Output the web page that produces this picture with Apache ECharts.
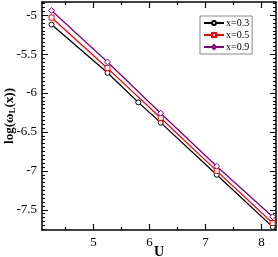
<!DOCTYPE html>
<html><head><meta charset="utf-8">
<script src="https://cdn.jsdelivr.net/npm/echarts@6/dist/echarts.min.js"></script>
<style>html,body{margin:0;padding:0;background:#fff}#c{width:278px;height:257px}</style>
</head><body><div id="c"></div>
<script>
// Data
const uBlack = [4.25, 5.25, 5.8, 6.2, 7.2, 8.2];
const uOther = [4.25, 5.25, 6.2, 7.2, 8.2];
const logX03 = [-5.12, -5.74, -6.12, -6.38, -7.05, -7.72];
const logX05 = [-5.03, -5.68, -6.32, -7.00, -7.67];
const logX09 = [-4.94, -5.60, -6.26, -6.94, -7.59];
const xTickLabels = [5, 6, 7, 8];
const yTickLabels = [-5, -5.5, -6, -6.5, -7, -7.5];
const seriesNames = ['x=0.3', 'x=0.5', 'x=0.9'];

const xMin = 4.08, xMax = 8.26, yMin = -7.76, yMax = -4.83;
const xMinor = [4.5, 5.5, 6.5, 7.5];
const yMinor = [];
for (let k = -155; k <= -97; k++) { const v = k * 0.05; if (v >= yMin && v <= yMax) yMinor.push(+v.toFixed(2)); }

const serif = 'Liberation Serif';
const pair = (xs, ys) => xs.map((x, i) => [x, ys[i]]);

function xAx(pos, ticks, len, labels, line) {
  return { type: 'value', position: pos, min: xMin, max: xMax,
    axisLine: { show: line, onZero: false, lineStyle: { color: '#000', width: 1.5 } },
    axisTick: { show: true, inside: true, length: len, customValues: ticks, lineStyle: { color: '#000', width: 1.2 } },
    axisLabel: labels ? { show: true, customValues: xTickLabels, color: '#000', fontFamily: serif, fontSize: 13, margin: 6 } : { show: false },
    splitLine: { show: false } };
}
function yAx(pos, ticks, len, labels, line) {
  return { type: 'value', position: pos, min: yMin, max: yMax,
    axisLine: { show: line, onZero: false, lineStyle: { color: '#000', width: 1.5 } },
    axisTick: { show: true, inside: true, length: len, customValues: ticks, lineStyle: { color: '#000', width: 1 } },
    axisLabel: labels ? { show: true, customValues: yTickLabels, color: '#000', fontFamily: serif, fontSize: 13, margin: 5 } : { show: false },
    splitLine: { show: false } };
}

const xAxes = [
  xAx('bottom', xTickLabels, 6, true, true),
  xAx('bottom', xMinor, 3, false, false),
  xAx('top', xTickLabels, 6, false, true),
  xAx('top', xMinor, 3, false, false)
];
xAxes[0].name = 'U';
xAxes[0].nameLocation = 'middle';
xAxes[0].nameGap = 15;
xAxes[0].nameMoveOverlap = false;
xAxes[0].nameTextStyle = { fontFamily: serif, fontSize: 14, fontWeight: 'bold', color: '#000' };

const yAxes = [
  yAx('left', yTickLabels, 6, true, true),
  yAx('left', yMinor, 3, false, false),
  yAx('right', yTickLabels, 6, false, true),
  yAx('right', yMinor, 3, false, false)
];
yAxes[0].name = '{a|log(ω}{s|L}{a|(x))}';
yAxes[0].nameLocation = 'middle';
yAxes[0].nameGap = 25;
yAxes[0].nameMoveOverlap = false;
yAxes[0].nameTextStyle = { fontFamily: serif, fontSize: 13, fontWeight: 'bold', color: '#000',
  rich: { a: { fontFamily: serif, fontSize: 13, fontWeight: 'bold', color: '#000' },
          s: { fontFamily: serif, fontSize: 9, fontWeight: 'bold', color: '#000', verticalAlign: 'bottom', padding: [6, 0, 0, 0] } } };

function mk(name, xs, ys, color, symbol, size) {
  return { name, type: 'line', data: pair(xs, ys), xAxisIndex: 0, yAxisIndex: 0,
    symbol, symbolSize: size, showSymbol: true,
    lineStyle: { color, width: 1.3 },
    itemStyle: { color: '#fff', borderColor: color, borderWidth: 1 },
    emphasis: { disabled: true }, animation: false };
}

const chart = echarts.init(document.getElementById('c'), null, { renderer: 'canvas' });
chart.setOption({
  animation: false,
  grid: { left: 42, right: 2, top: 2, bottom: 27, containLabel: false, outerBoundsMode: 'none' },
  xAxis: xAxes,
  yAxis: yAxes,
  legend: { show: true, left: 200, top: 16, orient: 'vertical', itemWidth: 20, itemHeight: 5, itemGap: 2,
    padding: [2, 3, 2, 3], borderColor: '#888', borderWidth: 1, backgroundColor: '#fff',
    textStyle: { fontFamily: serif, fontSize: 10, color: '#000', padding: [0, 0, 0, -3] },
    data: seriesNames },
  series: [
    mk(seriesNames[0], uBlack, logX03, '#000000', 'circle', 5),
    mk(seriesNames[1], uOther, logX05, '#ff0000', 'rect', 5),
    mk(seriesNames[2], uOther, logX09, '#800080', 'diamond', 6)
  ]
});
</script>
</body></html>
